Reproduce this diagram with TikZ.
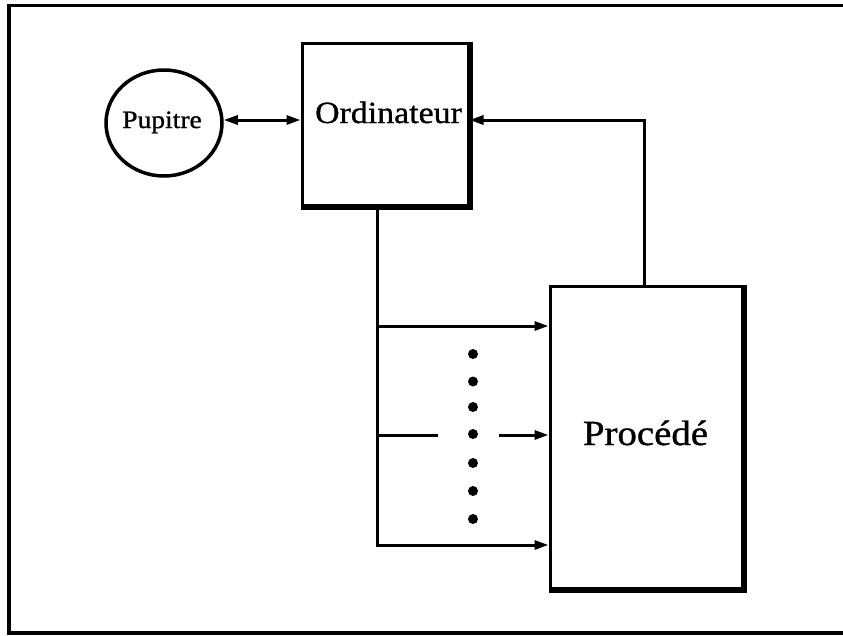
\documentclass[tikz,border=0pt]{standalone}
\usepackage{fontspec}
\setmainfont[FakeStretch=1.1,FakeBold=1]{Liberation Serif}
\usetikzlibrary{arrows.meta,shapes.geometric}
\begin{document}
\begin{tikzpicture}[x=1pt,y=-1pt,
  wire/.style={line width=3pt},
  arr/.style={wire,-{Triangle[length=14pt,width=9pt]}},
  dbl/.style={wire,{Triangle[length=14pt,width=9pt]}-{Triangle[length=14pt,width=9pt]}},
  block/.style={draw,line width=3pt,rectangle,inner sep=0pt},
  shade/.style={line width=5pt},
  lbl/.style={inner sep=0pt,anchor=base},
  dot/.style={circle,fill,inner sep=0pt,minimum size=10pt}]
\useasboundingbox (0,0) rectangle (843,635);
% outer frame (open on the right)
\draw[line width=3.5pt] (843,5.5) -- (9,5.5) -- (9,633) -- (843,633);

% console
\node[draw,ellipse,line width=3.5pt,minimum width=116pt,minimum height=106pt,inner sep=0pt] (pup) at (164,123) {};
\node[lbl,font=\fontsize{25}{30}\selectfont] (puptxt) at (162,128) {Pupitre};

% computer
\node[block,minimum width=166pt,minimum height=162pt] (ord) at (385,124) {};
\draw[shade] ([xshift=1pt]ord.north east) -- ([xshift=1pt,yshift=-1pt]ord.south east) -- ([yshift=-1pt]ord.south west);
\node[lbl,font=\fontsize{30.8}{37}\selectfont] (ordtxt) at (388.5,123) {Ordinateur};

% process
\node[block,minimum width=192pt,minimum height=302pt] (proc) at (646,437) {};
\draw[shade] ([xshift=1pt]proc.north east) -- ([xshift=1pt,yshift=-1pt]proc.south east) -- ([yshift=-1pt]proc.south west);
\node[lbl,font=\fontsize{35.3}{42}\selectfont] (proctxt) at (645.5,445) {Procédé};

% console <-> computer
\draw[dbl] ([yshift=3pt]pup.east) -- ([yshift=4pt]ord.west);

% feedback from the process to the computer
\draw[arr] ([xshift=-2pt]proc.north) |- ([yshift=4pt]ord.east);

% command bus towards the process
\coordinate (t1) at (377,326);
\coordinate (t2) at (377,435);
\coordinate (g1) at (438,435);
\coordinate (g2) at (499,435);
\draw[arr] ([xshift=-8pt]ord.south) |- ([yshift=-108pt]proc.west);
\draw[arr] (t1) -- (t1 -| proc.west);
\draw[wire] (t2) -- (g1);
\draw[arr] (g2) -- (g2 -| proc.west);

% ellipsis dots
\foreach \i/\yy in {1/354,2/381.5,3/407,4/434,5/463,6/491,7/519}
  \node[dot] (d\i) at (473,\yy) {};
\end{tikzpicture}
\end{document}
